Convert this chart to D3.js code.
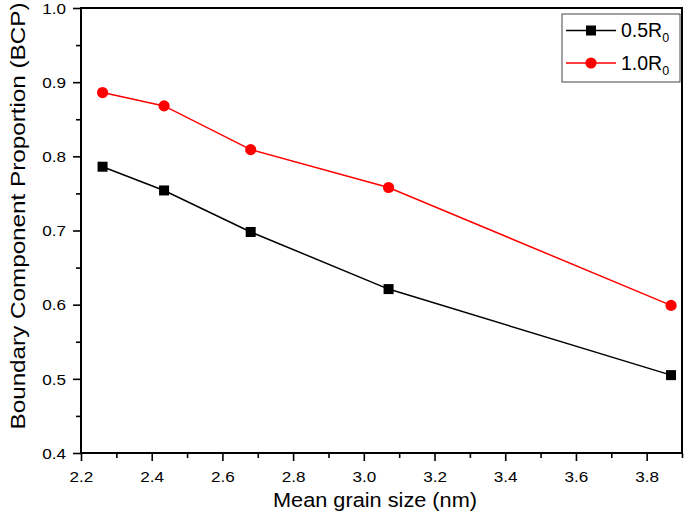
<!DOCTYPE html>
<html><head><meta charset="utf-8">
<script src="https://cdn.jsdelivr.net/npm/d3@7/dist/d3.min.js"></script>
<style>
html,body{margin:0;padding:0;background:#fff;}
svg{display:block;font-family:"Liberation Sans",Arial,sans-serif;}
</style></head>
<body>
<svg id="chart" width="685" height="515"></svg>
<script>
const grainSize = [2.261, 2.435, 2.68, 3.07, 3.869];
const bcp05 = [0.786, 0.754, 0.698, 0.621, 0.505];
const bcp10 = [0.886, 0.868, 0.809, 0.758, 0.599];
const seriesNames = ["0.5R", "1.0R"];
const xTicks = [2.2, 2.4, 2.6, 2.8, 3.0, 3.2, 3.4, 3.6, 3.8];
const yTicks = [0.4, 0.5, 0.6, 0.7, 0.8, 0.9, 1.0];
const xMinor = [2.3, 2.5, 2.7, 2.9, 3.1, 3.3, 3.5, 3.7, 3.9];
const yMinor = [0.45, 0.55, 0.65, 0.75, 0.85, 0.95];

const svg = d3.select("#chart");
const L = 81, R = 682, T = 8, B = 453;
const x = d3.scaleLinear().domain([2.2, 3.9]).range([L, R]);
const y = d3.scaleLinear().domain([0.4, 1.0]).range([B, T]);

// minor ticks
const mx = svg.append("g").attr("transform", `translate(0,${B})`)
  .call(d3.axisBottom(x).tickValues(xMinor).tickSize(5).tickSizeOuter(0).tickFormat(""));
const my = svg.append("g").attr("transform", `translate(${L},0)`)
  .call(d3.axisLeft(y).tickValues(yMinor).tickSize(5).tickSizeOuter(0).tickFormat(""));

// major axes
const gx = svg.append("g").attr("transform", `translate(0,${B})`)
  .call(d3.axisBottom(x).tickValues(xTicks).tickSize(8).tickSizeOuter(0).tickFormat(d3.format(".1f")));
const gy = svg.append("g").attr("transform", `translate(${L},0)`)
  .call(d3.axisLeft(y).tickValues(yTicks).tickSize(8).tickSizeOuter(0).tickFormat(d3.format(".1f")));
[mx, my, gx, gy].forEach(g => {
  g.selectAll(".domain").remove();
  g.selectAll(".tick line").style("stroke", "#000").style("stroke-width", "1.6px");
});
[gx, gy].forEach(g => {
  g.selectAll(".tick text").style("font-size", "14.5px").style("fill", "#000")
    .style("font-family", "'Liberation Sans', Arial, sans-serif");
});
gx.selectAll(".tick text").attr("y", 0).attr("dy", 0)
  .attr("transform", "translate(0,29) scale(1.18,1)");
gy.selectAll(".tick text").attr("x", 0).attr("dy", "0.36em")
  .attr("transform", "translate(-15,0) scale(1.18,1)");

// frame
svg.append("rect").attr("x", L).attr("y", T).attr("width", R - L).attr("height", B - T)
  .attr("fill", "none").attr("stroke", "#000").attr("stroke-width", 2);

// titles
svg.append("text").attr("x", 375).attr("y", 507).attr("text-anchor", "middle")
  .attr("font-size", 20.5).attr("textLength", 204).attr("lengthAdjust", "spacingAndGlyphs")
  .text("Mean grain size (nm)");
svg.append("text").attr("transform", "translate(25,216) rotate(-90)").attr("text-anchor", "middle")
  .attr("font-size", 21).attr("textLength", 427).attr("lengthAdjust", "spacingAndGlyphs")
  .text("Boundary Component Proportion (BCP)");

// series
const line = d3.line().x(d => x(d[0])).y(d => y(d[1]));
const d05 = grainSize.map((g, i) => [g, bcp05[i]]);
const d10 = grainSize.map((g, i) => [g, bcp10[i]]);
svg.append("path").datum(d05).attr("d", line).attr("fill", "none").attr("stroke", "#000").attr("stroke-width", 1.5);
svg.append("path").datum(d10).attr("d", line).attr("fill", "none").attr("stroke", "#ff0000").attr("stroke-width", 1.5);
svg.selectAll(".sq").data(d05).join("rect").attr("class", "sq")
  .attr("x", d => x(d[0]) - 5).attr("y", d => y(d[1]) - 5).attr("width", 10).attr("height", 10).attr("fill", "#000");
svg.selectAll(".ci").data(d10).join("circle").attr("class", "ci")
  .attr("cx", d => x(d[0])).attr("cy", d => y(d[1])).attr("r", 5.6).attr("fill", "#ff0000");

// legend
const lg = svg.append("g");
lg.append("rect").attr("x", 562).attr("y", 14).attr("width", 118).attr("height", 68)
  .attr("fill", "#fff").attr("stroke", "#444").attr("stroke-width", 1);
const rows = [{c: "#000", m: "sq", ty: 30.5, name: seriesNames[0]}, {c: "#ff0000", m: "ci", ty: 63, name: seriesNames[1]}];
rows.forEach(r => {
  lg.append("line").attr("x1", 566).attr("x2", 616).attr("y1", r.ty).attr("y2", r.ty)
    .attr("stroke", r.c).attr("stroke-width", 1.5);
  if (r.m === "sq") lg.append("rect").attr("x", 586).attr("y", r.ty - 5).attr("width", 10).attr("height", 10).attr("fill", r.c);
  else lg.append("circle").attr("cx", 591).attr("cy", r.ty).attr("r", 5.6).attr("fill", r.c);
  const t = lg.append("text").attr("x", 621).attr("y", r.ty + 6.8).attr("font-size", 19.5);
  t.append("tspan").text(r.name);
  t.append("tspan").attr("font-size", 12.5).attr("dy", 5).text("0");
});
</script>
</body></html>
